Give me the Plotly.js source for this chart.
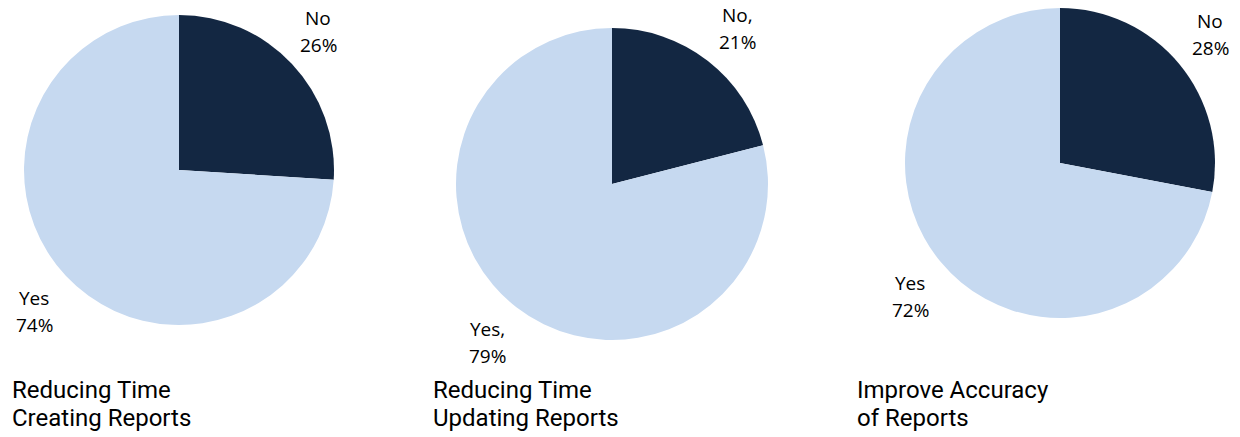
<!DOCTYPE html>
<html>
<head>
<meta charset="utf-8">
<script src="https://cdn.plot.ly/plotly-3.0.1.min.js"></script>
<style>html,body{margin:0;padding:0;background:#fff;}#chart{width:1240px;height:437px;}</style>
</head>
<body>
<div id="chart"></div>
<script>
var categories = ['No', 'Yes'];
var chartTitles = [['Reducing Time', 'Creating Reports'], ['Reducing Time', 'Updating Reports'], ['Improve Accuracy', 'of Reports']];
var valuesCreating = [26, 74];
var valuesUpdating = [21, 79];
var valuesAccuracy = [28, 72];
var separators = ['', ',', ''];
var allValues = [valuesCreating, valuesUpdating, valuesAccuracy];

var W = 1240, H = 437;
var colors = ['#132742', '#C6D9F0'];
// layout geometry (pixels): pie centers/radius, label positions (first line center), title positions
var pies = [
  {cx: 179, cy: 170, r: 155, lab: [[318, 18], [34, 298]], title: [10, 390]},
  {cx: 612, cy: 184, r: 156, lab: [[737, 15], [487, 329]], title: [431, 390]},
  {cx: 1060, cy: 163, r: 155, lab: [[1210, 21], [910, 283]], title: [855, 390]}
];
var labelGap = 27, titleGap = 28;
function px(x) { return x / W; }
function py(y) { return 1 - y / H; }

var traces = [];
var annotations = [];
function addText(x, y, text, anchor, font) {
  annotations.push({
    x: px(x), y: py(y), xref: 'paper', yref: 'paper',
    xanchor: anchor, yanchor: 'middle', showarrow: false,
    text: text, font: font
  });
}
pies.forEach(function (p, i) {
  traces.push({
    type: 'pie',
    values: allValues[i],
    labels: categories,
    sort: false,
    direction: 'clockwise',
    rotation: 0,
    textinfo: 'none',
    hoverinfo: 'label+percent',
    marker: {colors: colors, line: {width: 0}},
    showlegend: false,
    domain: {x: [px(p.cx - p.r), px(p.cx + p.r)], y: [py(p.cy + p.r), py(p.cy - p.r)]}
  });
  var lf = {family: 'Open Sans, sans-serif', size: 19, color: '#000'};
  categories.forEach(function (c, k) {
    addText(p.lab[k][0], p.lab[k][1], c + separators[i], 'center', lf);
    addText(p.lab[k][0], p.lab[k][1] + labelGap, allValues[i][k] + '%', 'center', lf);
  });
  var tf = {family: 'Roboto, sans-serif', size: 24, color: '#000'};
  chartTitles[i].forEach(function (line, j) {
    addText(p.title[0], p.title[1] + j * titleGap, line, 'left', tf);
  });
});

Plotly.newPlot('chart', traces, {
  width: W, height: H,
  margin: {l: 0, r: 0, t: 0, b: 0},
  paper_bgcolor: '#fff', plot_bgcolor: '#fff',
  annotations: annotations
}, {displayModeBar: false});
</script>
</body>
</html>
